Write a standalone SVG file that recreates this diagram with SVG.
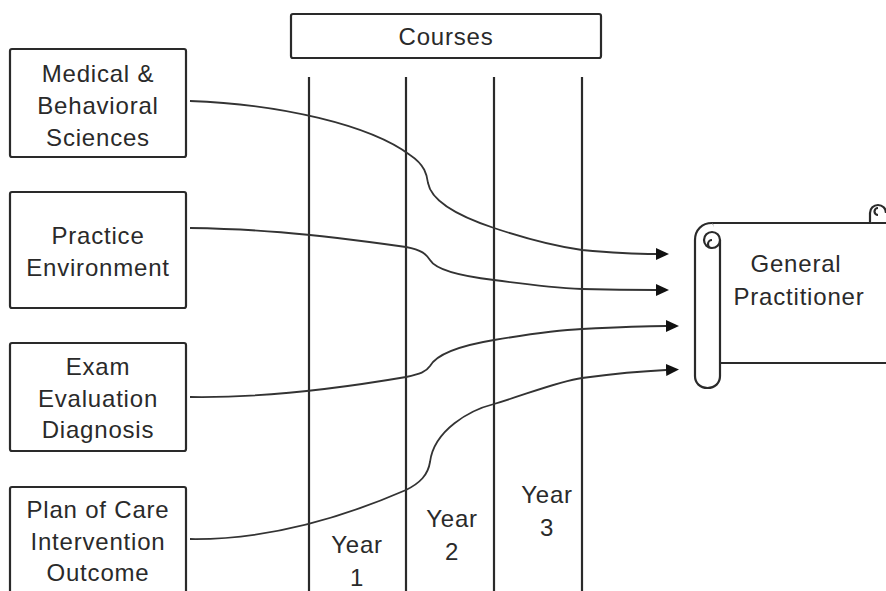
<svg xmlns="http://www.w3.org/2000/svg" width="886" height="591" viewBox="0 0 886 591">
<style>
.box{fill:#fff;stroke:#2a2a2a;stroke-width:2.2}
.t{font-family:"Liberation Sans",Arial,sans-serif;font-size:24px;fill:#2a2a2a;text-anchor:middle;letter-spacing:0.8px}
.col{stroke:#2a2a2a;stroke-width:2.2;fill:none}
.con{stroke:#333;stroke-width:1.8;fill:none;marker-end:url(#arr)}
.scr{stroke:#2a2a2a;stroke-width:2.2;fill:#fff}
</style>
<defs>
<marker id="arr" markerUnits="userSpaceOnUse" markerWidth="14" markerHeight="14" refX="0" refY="6" orient="auto" viewBox="0 0 14 12">
<path d="M0,0 L13,6 L0,12 Z" fill="#111"/>
</marker>
</defs>
<rect width="886" height="591" fill="#fff"/>

<g id="courses">
<rect class="box" x="291" y="14" width="310" height="44" rx="2"/>
<text class="t" x="446" y="45">Courses</text>
</g>

<g id="columns">
<line class="col" x1="309" y1="77" x2="309" y2="591"/>
<line class="col" x1="406" y1="77" x2="406" y2="591"/>
<line class="col" x1="494" y1="77" x2="494" y2="591"/>
<line class="col" x1="582" y1="77" x2="582" y2="591"/>
</g>

<g id="year1"><text class="t" x="357" y="553">Year</text><text class="t" x="357" y="586">1</text></g>
<g id="year2"><text class="t" x="452" y="527">Year</text><text class="t" x="452" y="560">2</text></g>
<g id="year3"><text class="t" x="547" y="503">Year</text><text class="t" x="547" y="536">3</text></g>

<g id="medical">
<rect class="box" x="10" y="49" width="176" height="108" rx="2"/>
<text class="t" x="98" y="82">Medical &amp;</text>
<text class="t" x="98" y="114">Behavioral</text>
<text class="t" x="98" y="146">Sciences</text>
</g>

<g id="practice">
<rect class="box" x="10" y="192" width="176" height="116" rx="2"/>
<text class="t" x="98" y="244">Practice</text>
<text class="t" x="98" y="276">Environment</text>
</g>

<g id="exam">
<rect class="box" x="10" y="343" width="176" height="108" rx="2"/>
<text class="t" x="98" y="375">Exam</text>
<text class="t" x="98" y="407">Evaluation</text>
<text class="t" x="98" y="438">Diagnosis</text>
</g>

<g id="plan">
<rect class="box" x="10" y="487" width="176" height="120" rx="2"/>
<text class="t" x="98" y="518">Plan of Care</text>
<text class="t" x="98" y="550">Intervention</text>
<text class="t" x="98" y="581">Outcome</text>
</g>

<g id="gp">
<path class="scr" d="M712,223 H890 V363 H720 Z"/>
<path class="scr" d="M870,223 V213 A8,8 0 1 1 886,213 M878,215 A3.5,3.5 0 0 1 878,208" fill="none"/>
<path class="scr" d="M712,223 C702,223 695,230 695,240 V376 C695,383 700,388 707.5,388 C715,388 720,383 720,376 V240"/>
<circle class="scr" cx="712" cy="240" r="8"/>
<path class="scr" d="M712,248 A4,4 0 0 1 712,240" fill="none"/>
<text class="t" x="796" y="272">General</text>
<text class="t" x="799" y="305">Practitioner</text>
</g>

<g id="connectors">
<path class="con" d="M190,101 C280,104 370,125 410,155 C425,165 427,175 428,183 C432,205 470,220 494,228 C530,240 560,247 582,250 C615,253 640,254 656,254"/>
<path class="con" d="M190,228 C250,229 300,232 406,247 C422,250 426,254 430,260 C436,270 460,276 494,280 C530,285 560,288 582,289 C620,290 640,290 656,290"/>
<path class="con" d="M190,397 C250,398 330,390 406,377 C420,374 426,372 430,366 C438,352 470,344 494,340 C530,334 560,330 582,329 C620,327 645,326 666,326"/>
<path class="con" d="M190,539 C260,540 330,523 406,490 C420,483 428,475 430,462 C434,430 470,410 494,404 C530,393 560,381 582,378 C620,373 645,371 666,370"/>
</g>
</svg>
